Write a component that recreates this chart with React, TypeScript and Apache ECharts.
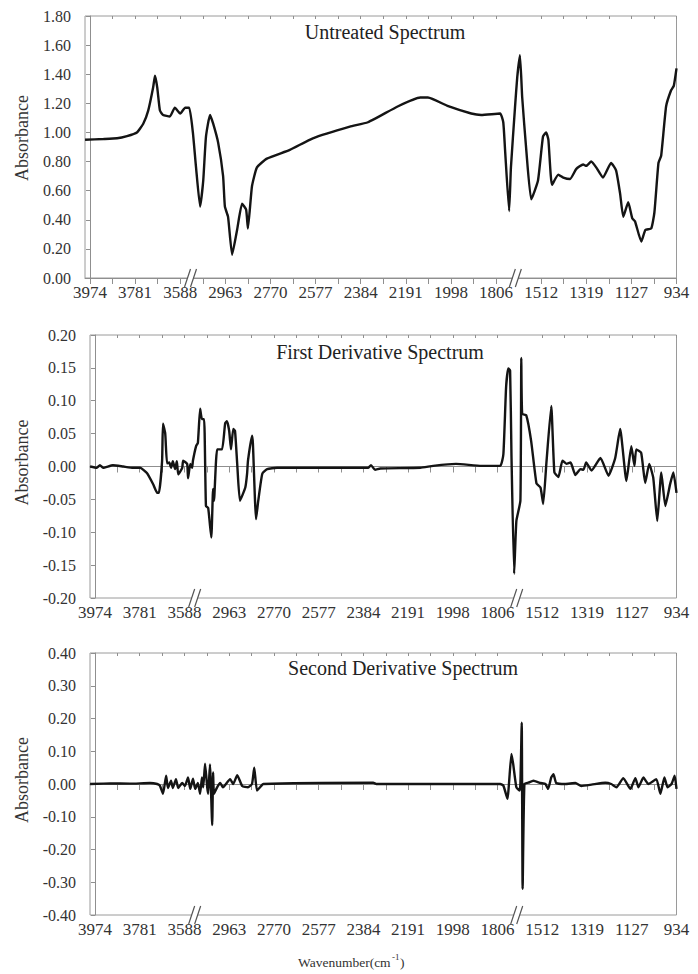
import React, { useEffect, useRef } from "react";
import * as echarts from "echarts";

// Axis tick labels (wavenumber, cm-1); positions 0..13 along the broken axis
const tickLabels = ["3974", "3781", "3588", "2963", "2770", "2577", "2384", "2191", "1998", "1806", "1512", "1319", "1127", "934"];
const panelTitles = ["Untreated Spectrum", "First Derivative Spectrum", "Second Derivative Spectrum"];
const yAxisTitle = "Absorbance";
const xAxisTitleMain = "Wavenumber(cm";
const xAxisTitleSup = "-1";
const xAxisTitleEnd = ")";
const breakPositions = [2.25, 9.45];

// Untreated spectrum: x = position along axis (label index), y = absorbance
const untreatedPos = [-0.11, 0.3, 0.6, 0.82, 1.04, 1.18, 1.29, 1.4, 1.44, 1.49, 1.55, 1.62, 1.77, 1.88, 2.0, 2.11, 2.2, 2.28, 2.35, 2.44, 2.51, 2.57, 2.66, 2.73, 2.84, 2.95, 2.99, 3.06, 3.15, 3.26, 3.37, 3.46, 3.5, 3.59, 3.7, 3.92, 4.43, 4.94, 5.76, 6.16, 6.83, 7.32, 7.49, 7.94, 8.45, 8.67, 9.09, 9.16, 9.2, 9.29, 9.33, 9.42, 9.47, 9.53, 9.58, 9.67, 9.78, 9.93, 10.04, 10.11, 10.16, 10.24, 10.38, 10.49, 10.64, 10.78, 10.93, 11.0, 11.11, 11.22, 11.37, 11.55, 11.66, 11.75, 11.82, 11.93, 12.02, 12.08, 12.22, 12.31, 12.44, 12.51, 12.6, 12.66, 12.77, 12.88, 12.94, 13.0];
const untreatedAbs = [0.95, 0.955, 0.96, 0.975, 1.0, 1.06, 1.15, 1.31, 1.39, 1.31, 1.15, 1.12, 1.11, 1.17, 1.13, 1.17, 1.17, 1.0, 0.76, 0.49, 0.67, 0.97, 1.12, 1.06, 0.93, 0.7, 0.49, 0.42, 0.16, 0.33, 0.51, 0.47, 0.34, 0.63, 0.76, 0.82, 0.88, 0.96, 1.04, 1.07, 1.18, 1.24, 1.24, 1.18, 1.13, 1.12, 1.13, 1.07, 0.88, 0.46, 0.76, 1.17, 1.38, 1.53, 1.24, 0.88, 0.54, 0.67, 0.97, 1.0, 0.95, 0.64, 0.71, 0.69, 0.68, 0.75, 0.78, 0.77, 0.8, 0.76, 0.69, 0.79, 0.74, 0.58, 0.42, 0.52, 0.41, 0.39, 0.25, 0.33, 0.34, 0.45, 0.79, 0.84, 1.18, 1.29, 1.32, 1.44];

// First derivative spectrum
const firstPos = [-0.11, 0.04, 0.11, 0.18, 0.4, 0.63, 0.85, 1.01, 1.16, 1.3, 1.39, 1.43, 1.5, 1.52, 1.57, 1.61, 1.66, 1.7, 1.74, 1.79, 1.83, 1.86, 1.95, 1.97, 2.06, 2.08, 2.13, 2.17, 2.19, 2.26, 2.3, 2.35, 2.39, 2.44, 2.48, 2.53, 2.6, 2.64, 2.66, 2.73, 2.84, 2.91, 2.95, 3.0, 3.04, 3.09, 3.13, 3.18, 3.24, 3.36, 3.4, 3.42, 3.51, 3.53, 3.6, 3.65, 3.74, 3.85, 4.07, 5.66, 6.11, 6.17, 6.26, 6.38, 7.27, 7.56, 8.07, 8.64, 9.06, 9.13, 9.19, 9.24, 9.28, 9.31, 9.37, 9.42, 9.51, 9.53, 9.55, 9.64, 9.75, 9.87, 9.96, 10.02, 10.09, 10.2, 10.27, 10.36, 10.45, 10.54, 10.63, 10.67, 10.74, 10.85, 10.92, 10.98, 11.1, 11.3, 11.48, 11.63, 11.74, 11.88, 11.99, 12.06, 12.1, 12.21, 12.3, 12.39, 12.48, 12.57, 12.66, 12.75, 12.86, 12.93, 13.0];
const firstAbs = [0.0, -0.002, 0.002, -0.002, 0.002, 0.0, -0.002, -0.002, -0.01, -0.027, -0.04, -0.04, 0.009, 0.065, 0.05, 0.005, 0.006, -0.002, 0.008, -0.004, 0.008, -0.012, -0.002, 0.009, 0.004, -0.018, 0.004, -0.002, 0.009, 0.031, 0.036, 0.088, 0.072, 0.072, -0.06, -0.063, -0.108, -0.034, -0.052, 0.026, 0.026, 0.066, 0.069, 0.054, 0.026, 0.057, 0.054, 0.003, -0.052, -0.032, -0.011, 0.009, 0.047, 0.035, -0.08, -0.052, -0.011, -0.004, -0.002, -0.002, -0.002, 0.002, -0.005, -0.003, -0.002, 0.001, 0.004, 0.001, 0.001, 0.019, 0.12, 0.149, 0.146, 0.019, -0.163, -0.083, -0.052, 0.165, 0.08, 0.078, 0.039, -0.026, -0.032, -0.057, 0.004, 0.092, -0.009, -0.016, 0.009, 0.004, 0.006, 0.0, -0.013, -0.004, -0.005, 0.006, -0.006, 0.013, -0.014, 0.013, 0.057, -0.022, 0.031, 0.001, 0.026, 0.021, -0.025, 0.004, -0.017, -0.083, -0.009, -0.06, -0.026, -0.009, -0.04];

// Second derivative spectrum
const secondPos = [-0.11, 0.34, 0.78, 1.23, 1.39, 1.45, 1.52, 1.59, 1.63, 1.7, 1.74, 1.81, 1.86, 1.95, 2.01, 2.08, 2.13, 2.19, 2.24, 2.3, 2.35, 2.39, 2.42, 2.46, 2.51, 2.53, 2.57, 2.62, 2.64, 2.66, 2.73, 2.8, 2.86, 3.02, 3.09, 3.18, 3.29, 3.42, 3.51, 3.56, 3.62, 3.69, 3.76, 6.22, 6.29, 9.06, 9.13, 9.22, 9.31, 9.35, 9.42, 9.49, 9.51, 9.54, 9.56, 9.6, 9.69, 9.8, 9.96, 10.07, 10.13, 10.2, 10.25, 10.31, 10.51, 10.74, 10.87, 11.1, 11.41, 11.54, 11.66, 11.81, 11.97, 12.08, 12.15, 12.26, 12.37, 12.55, 12.64, 12.73, 12.8, 12.89, 12.96, 13.0];
const secondAbs = [0.0, 0.002, 0.001, 0.003, 0.0, -0.005, -0.03, 0.025, -0.012, 0.01, -0.012, 0.015, -0.012, 0.003, -0.006, 0.02, -0.015, 0.016, -0.015, 0.003, -0.03, 0.02, -0.01, 0.062, -0.012, -0.03, 0.06, -0.125, 0.035, -0.03, -0.01, 0.003, -0.01, 0.015, 0.0, 0.027, -0.006, -0.01, 0.0, 0.05, -0.02, -0.01, 0.0, 0.004, 0.0, 0.0, -0.005, -0.045, 0.092, 0.06, -0.01, -0.02, 0.0, 0.187, -0.32, 0.0, 0.004, 0.01, 0.003, 0.0, -0.015, 0.02, 0.03, 0.003, 0.0, 0.003, -0.006, -0.002, 0.004, 0.0, -0.01, 0.018, -0.015, 0.018, -0.01, 0.02, 0.0, 0.015, -0.03, 0.02, -0.01, 0.0, 0.025, -0.015];

const yMins = [0, -0.2, -0.4];
const yMaxs = [1.8, 0.2, 0.4];
const yIntervals = [0.2, 0.05, 0.1];

const FONT = "Liberation Serif";
const AXIS_COLOR = "#8f8f8f";
const TEXT_COLOR = "#333333";

// panel placement on the page
const panelTops = [0, 318, 636];
const panelHeights = [318, 318, 338];
const gridBoxes = [
  { left: 85, top: 16, width: 591.5, height: 262 },
  { left: 90, top: 17, width: 586.5, height: 263 },
  { left: 90, top: 17, width: 586.5, height: 262 },
];
const xMins = [-0.111, -0.112, -0.112];
const titleXY = [
  [385, 32],
  [380, 34],
  [403, 32],
];
const nameCenterOffset = [-9, -4, -4];

function buildOption(i: number): any {
  const seriesPos = [untreatedPos, firstPos, secondPos][i];
  const seriesVal = [untreatedAbs, firstAbs, secondAbs][i];
  const g = gridBoxes[i];
  const labelVals = tickLabels.map((_, k) => k);
  const tickVals: number[] = [];
  for (let k = 0; k <= 26; k++) {
    const v = k / 2;
    if (v === 9.5) continue;
    tickVals.push(v);
  }
  const graphic: any[] = [
    {
      type: "text",
      x: titleXY[i][0],
      y: titleXY[i][1],
      style: { text: panelTitles[i], fontFamily: FONT, fontSize: 20, fill: "#222222", align: "center", verticalAlign: "middle" },
    },
    {
      type: "text",
      x: 22,
      y: g.top + g.height / 2 + nameCenterOffset[i],
      rotation: Math.PI / 2,
      style: { text: yAxisTitle, fontFamily: FONT, fontSize: 18, fill: TEXT_COLOR, align: "center", verticalAlign: "middle" },
    },
  ];
  if (i === 2) {
    graphic.push(
      { type: "text", x: 298, y: 326, style: { text: xAxisTitleMain, fontFamily: FONT, fontSize: 13.5, fill: TEXT_COLOR, align: "left", verticalAlign: "middle" } },
      { type: "text", x: 392, y: 321, style: { text: xAxisTitleSup, fontFamily: FONT, fontSize: 9, fill: TEXT_COLOR, align: "left", verticalAlign: "middle" } },
      { type: "text", x: 400, y: 326, style: { text: xAxisTitleEnd, fontFamily: FONT, fontSize: 13.5, fill: TEXT_COLOR, align: "left", verticalAlign: "middle" } }
    );
  }
  return {
    animation: false,
    grid: [{ ...g, show: true, borderColor: "#9a9a9a", borderWidth: 1 }],
    xAxis: [
      {
        type: "value",
        min: xMins[i],
        max: 13,
        axisLine: { show: true, lineStyle: { color: AXIS_COLOR, width: 1 } },
        axisTick: { show: true, customValues: tickVals, length: 6, lineStyle: { color: AXIS_COLOR, width: 1 } },
        axisLabel: {
          customValues: labelVals,
          formatter: (v: number) => tickLabels[Math.round(v)] ?? "",
          fontFamily: FONT,
          fontSize: 17,
          color: TEXT_COLOR,
          margin: 6,
        },
        splitLine: { show: false },
      },
      {
        type: "value",
        min: xMins[i],
        max: 13,
        axisLine: { show: false },
        axisTick: { show: true, inside: true, customValues: tickVals, length: 3, lineStyle: { color: AXIS_COLOR, width: 1 } },
        axisLabel: { show: false },
        splitLine: { show: false },
      },
    ],
    yAxis: [
      {
        type: "value",
        min: yMins[i],
        max: yMaxs[i],
        interval: yIntervals[i],
        axisLine: { show: true, lineStyle: { color: AXIS_COLOR, width: 1 } },
        axisTick: { show: true, length: 4, lineStyle: { color: AXIS_COLOR } },
        axisLabel: {
          formatter: (v: number) => v.toFixed(2),
          fontFamily: FONT,
          fontSize: 16,
          color: TEXT_COLOR,
          margin: 14,
        },
        splitLine: { show: false },
      },
    ],
    series: [
      {
        type: "line",
        name: panelTitles[i],
        xAxisIndex: 0,
        yAxisIndex: 0,
        data: seriesPos.map((p, k) => [p, seriesVal[k]]),
        showSymbol: false,
        symbol: "none",
        smooth: 0.15,
        lineStyle: { color: "#141414", width: 2.4 },
        z: 3,
      },
      {
        type: "custom",
        xAxisIndex: 0,
        yAxisIndex: 0,
        silent: true,
        clip: false,
        z: 10,
        data: breakPositions.map((p) => [p, yMins[i]]),
        encode: { x: 0, y: 1 },
        renderItem: (params: any, api: any) => {
          const pt = api.coord([api.value(0), api.value(1)]);
          const cx = pt[0];
          const cy = pt[1];
          return {
            type: "group",
            children: [
              { type: "rect", shape: { x: cx - 4, y: cy - 1.5, width: 6, height: 3 }, style: { fill: "#ffffff" } },
              { type: "line", shape: { x1: cx - 7, y1: cy + 9, x2: cx - 1, y2: cy - 9 }, style: { stroke: "#555555", lineWidth: 1.2 } },
              { type: "line", shape: { x1: cx - 1, y1: cy + 9, x2: cx + 5, y2: cy - 9 }, style: { stroke: "#555555", lineWidth: 1.2 } },
            ],
          };
        },
      },
    ],
    graphic,
  };
}

function Panel({ index }: { index: number }) {
  const ref = useRef<HTMLDivElement>(null);
  useEffect(() => {
    if (!ref.current) return;
    const chart = echarts.init(ref.current, undefined, { renderer: "svg" });
    chart.setOption(buildOption(index));
    return () => {
      chart.dispose();
    };
  }, [index]);
  return (
    <div
      ref={ref}
      style={{ position: "absolute", left: 0, top: panelTops[index], width: 698, height: panelHeights[index] }}
    />
  );
}

export default function App() {
  return (
    <div style={{ position: "fixed", left: 0, top: 0, width: 698, height: 974, background: "#ffffff" }}>
      <Panel index={0} />
      <Panel index={1} />
      <Panel index={2} />
    </div>
  );
}
